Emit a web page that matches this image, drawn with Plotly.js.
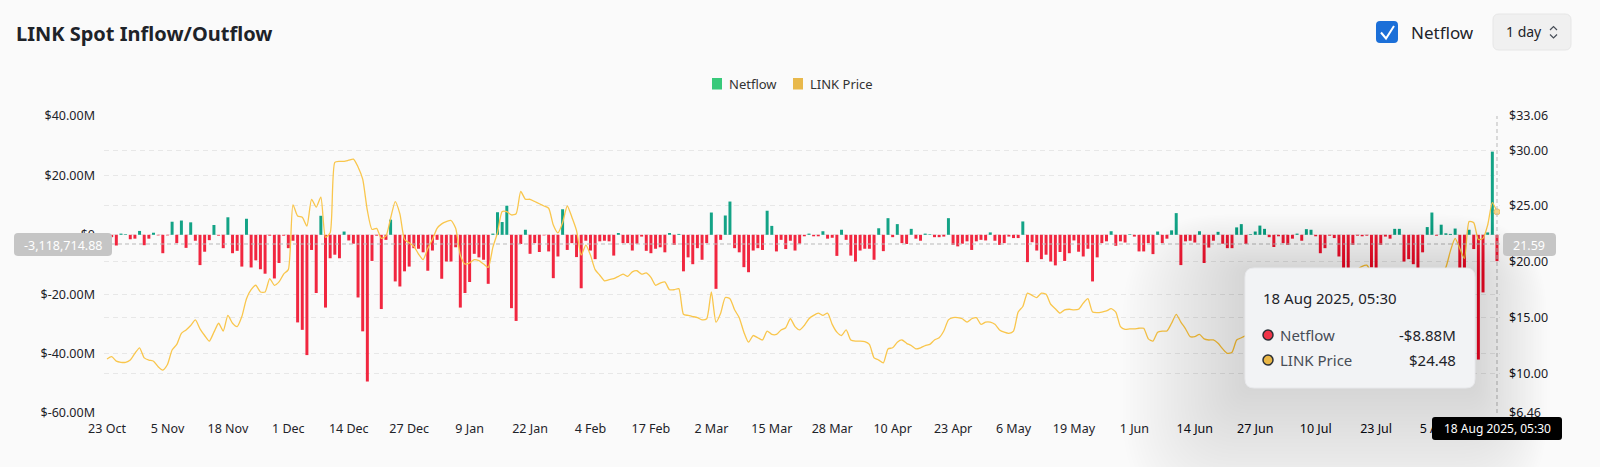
<!DOCTYPE html>
<html>
<head>
<meta charset="utf-8">
<script src="https://cdn.plot.ly/plotly-3.0.1.min.js"></script>
<style>
html,body{margin:0;padding:0;background:#fafafa;}
#chart{width:1600px;height:467px;}
</style>
</head>
<body>
<div id="chart"></div>
<script>
// ---- DATA ----
const startDate = '2024-10-23 05:30';
const tickLabels = ['23 Oct','5 Nov','18 Nov','1 Dec','14 Dec','27 Dec','9 Jan','22 Jan','4 Feb','17 Feb','2 Mar','15 Mar','28 Mar','10 Apr','23 Apr','6 May','19 May','1 Jun','14 Jun','27 Jun','10 Jul','23 Jul','5 Aug'];
// Netflow in $M, one per day
const netflow = [
-1.2,-0.8,-3.6,0.4,0.2,-1.5,-1.3,1.3,-3.5,-1.3,
0.7,-0.2,-6.2,-0.2,4.4,-2.8,4.8,-4.4,4.2,-2.0,
-10.2,-5.7,-1.8,3.3,-0.3,-4.5,5.9,-6.2,-5.4,-10.7,
5.4,-11.0,-8.6,-11.6,-13.1,-0.3,-14.7,-9.5,-0.3,-4.5,
-2.0,-29.5,-32,-40.5,-5.1,-19.6,6.4,-24.5,-7.9,-6.7,
-7.9,1.1,-1.9,-3.0,-21.1,-32.5,-49.4,-8.8,-0.3,-25,
-1.7,5.1,-15.7,-17.4,-12.3,-10.7,-4.5,-4.7,-5.9,-12.1,
-5.3,-1.7,-14.8,-9.0,-9.0,-4.2,-24.5,-19.6,-15.9,-6.4,
-7.6,-8.4,-16.5,0.4,7.6,4.3,9.8,-24.7,-29,-3.1,
1.7,-6.4,-2.8,-5.8,-0.2,-5.6,-14.6,-7.3,8.6,-5.1,
-2.8,-7.5,-18,-2.0,-5.3,-8.2,-2.2,-2.0,-2.2,-7.0,
0.6,-2.8,-2.8,-5.3,-3.0,-0.6,-5.4,-6.2,-4.7,-4.2,
-5.9,0.6,-3.4,0.3,-12.3,-7.6,-9.9,-4.5,-8.4,-2.8,
7.5,-18.2,-1.7,6.5,11.2,-4.5,-5.9,-10.9,-12.6,-5.3,
-4.5,-5.1,8.1,3.0,-5.6,-1.7,-4.8,-2.0,-5.3,-3.0,
-0.5,0.4,-0.5,-0.5,1.2,-1.3,-1.0,-7.1,1.7,-1.7,
-7.0,-9.0,-5.3,-4.7,-4.7,-8.4,2.2,-5.5,5.6,-0.8,
3.6,-2.8,-3.1,2.0,-1.3,-2.0,0.4,0.2,-0.8,-0.8,
-0.6,5.6,-3.4,-3.9,-3.0,-2.2,-5.1,-2.2,-1.7,-1.9,
0.8,-2.0,-3.4,-2.8,-0.6,-1.1,-1.1,4.5,-9.2,-2.5,
-5.3,-8.2,-6.7,-9.0,-10.3,-5.8,-8.8,-6.2,-1.9,-5.7,
-7.3,-4.7,-15.7,-7.6,-2.8,-2.2,1.2,-3.7,-2.2,-2.6,
0.2,-0.6,-5.6,-5.6,-2.8,-6.5,1.1,-2.8,-1.3,1.5,
7.3,-10.2,-2.2,-2.0,-2.6,1.2,-9.5,-4.3,-2.0,1.0,
-3.0,-4.5,-4.5,2.5,3.6,-3.1,0.2,1.1,3.1,2.0,
-0.8,-4.1,-0.5,-2.8,-3.4,-1.3,0.4,-2.0,1.9,1.7,
-0.5,-6.2,-4.5,-0.3,-1.1,-7.3,-12,-12,-3.4,-0.3,
-0.5,-0.3,-11,-13,-3.4,-0.6,-1.3,2.0,2.0,-9.0,
-8.2,-9.9,-11.5,-5.9,2.6,7.5,-0.3,3.4,0.5,0.3,
2.1,-12,-12,1.7,-4.8,-42,-19.4,0.8,28,-8.88
];
// LINK price in $, one per day
const linkPrice = [
11.3,11.5,11.1,11.0,11.0,11.2,11.8,12.3,11.4,11.2,
11.1,10.6,10.3,10.8,12.1,12.6,13.6,13.9,14.3,14.8,
14.0,13.4,12.9,13.7,14.5,13.8,15.2,14.5,14.2,15.1,
16.7,17.5,17.9,17.3,17.3,18.5,17.9,18.2,18.9,19.3,
25.1,24.1,24.0,23.2,25.6,24.9,25.8,22.2,22.6,28.9,
29.0,29.0,29.1,29.2,28.5,27.4,24.6,22.9,23.0,22.1,
22.3,23.9,25.4,24.3,22.0,21.7,21.4,20.7,20.2,21.2,
22.0,23.0,23.4,23.6,23.7,23.0,20.6,19.8,19.9,20.2,
20.1,19.8,19.5,21.3,22.6,24.5,24.5,24.2,24.3,26.3,
25.6,25.6,25.4,25.2,25.0,24.8,23.3,22.6,23.5,25.0,
24.0,22.8,20.6,21.5,20.6,19.3,18.8,18.3,18.4,18.5,
18.7,18.9,18.7,19.1,19.2,18.9,19.0,18.6,17.9,18.1,
18.2,17.5,17.5,17.6,15.3,15.2,15.1,15.0,14.8,14.9,
17.3,14.6,15.4,16.8,16.7,15.7,15.0,13.7,12.8,13.4,
13.2,13.0,13.8,13.5,13.5,13.9,14.1,14.9,14.2,13.9,
14.3,14.9,15.2,15.4,15.2,15.4,14.4,13.7,13.4,13.9,
13.0,12.9,12.9,12.85,12.6,11.4,11.2,10.95,12.2,12.3,
12.8,13.0,12.7,12.5,12.2,12.3,12.5,12.6,13.0,13.2,
13.8,14.8,15.0,15.0,14.9,14.6,14.9,15.0,14.4,14.6,
14.6,14.4,13.9,13.7,13.6,13.8,15.5,16.0,17.2,17.0,
16.8,17.2,17.1,16.2,15.8,15.4,15.7,15.75,15.7,15.75,
16.3,16.7,15.5,15.45,15.5,15.6,15.8,15.5,14.2,13.95,
14.0,14.0,14.05,14.05,13.1,12.9,13.7,13.8,13.8,14.5,
15.3,14.6,14.0,13.3,13.3,13.5,13.1,13.0,13.0,12.7,
12.2,11.8,11.9,13.0,13.2,13.4,13.6,13.8,13.7,13.9,
13.5,13.2,13.7,14.0,13.8,14.3,14.9,14.6,15.2,15.0,
15.3,15.8,16.5,17.6,17.2,18.0,18.4,18.2,18.8,19.3,
19.6,19.7,19.0,18.4,18.6,18.0,17.6,17.9,17.5,17.2,
17.0,16.6,16.2,16.4,16.6,17.4,18.2,18.9,19.5,21.0,
22.1,21.2,20.3,23.6,23.5,22.0,22.1,23.3,25.3,24.48
];
const leftTickVals = [40,20,0,-20,-40,-60];
const leftTickText = ['$40.00M','$20.00M','$0','$-20.00M','$-40.00M','$-60.00M'];
const rightTickVals = [33.06,30,25,20,15,10,6.46];
const rightTickText = ['$33.06','$30.00','$25.00','$20.00','$15.00','$10.00','$6.46'];

// ---- BUILD ----
const DAY = 86400000;
function toMs(s){ return Date.parse(s.replace(' ','T')+':00Z'); }
function fmt(ms){ return new Date(ms).toISOString().replace('T',' ').slice(0,19); }
const t0 = toMs(startDate);
const dates = netflow.map((_,i)=>fmt(t0 + i*DAY));
const tickVals = tickLabels.map((_,i)=>dates[i*13]);
const barColors = netflow.map(v => v >= 0 ? '#13a386' : '#f1263f');

// plot area in pixels
const L=104, R=1500, T=116, B=413;
const px = x => (x-L)/(R-L);
const py = y => (B-y)/(B-T);
function rr(x0,y0,x1,y1,r){
  const P=(x,y)=>px(x).toFixed(5)+','+py(y).toFixed(5);
  return 'M'+P(x0+r,y0)+' L'+P(x1-r,y0)+' Q'+P(x1,y0)+' '+P(x1,y0+r)+
    ' L'+P(x1,y1-r)+' Q'+P(x1,y1)+' '+P(x1-r,y1)+' L'+P(x0+r,y1)+
    ' Q'+P(x0,y1)+' '+P(x0,y1-r)+' L'+P(x0,y0+r)+' Q'+P(x0,y0)+' '+P(x0+r,y0)+' Z';
}
const FONT = 'Noto Sans, sans-serif';
const shapes = [];
const ann = [];
function txt(text,x,y,o){ ann.push(Object.assign({text:text,x:px(x),y:py(y),xref:'paper',yref:'paper',showarrow:false,xanchor:'left',yanchor:'middle',font:{family:FONT,size:12,color:'#1e2329'}},o||{})); }

// crosshair lines
shapes.push({type:'line',xref:'paper',yref:'paper',x0:px(1497),x1:px(1497),y0:0,y1:1,line:{color:'#b9b9b9',width:1,dash:'4px,3px'},layer:'above'});
shapes.push({type:'line',xref:'paper',yref:'paper',x0:0,x1:1,y0:py(244),y1:py(244),line:{color:'#b9b9b9',width:1,dash:'4px,3px'},layer:'above'});

// tooltip shadow layers (soft)
for(let k=36;k>=1;k--){
  const e=2.6*k;
  shapes.push({type:'path',xref:'paper',yref:'paper',path:rr(1245-e-0.8*k,268-e+1.1*k,1475+e-0.6*k,388+e+1.1*k,8+e),fillcolor:'rgba(0,0,0,0.0058)',line:{width:0},layer:'above'});
}
// tooltip box
shapes.push({type:'path',xref:'paper',yref:'paper',path:rr(1245,268,1475,388,9),fillcolor:'#f2f3f5',line:{color:'#e8e9ec',width:1},layer:'above'});
// tooltip dots
shapes.push({type:'circle',xref:'paper',yref:'paper',x0:px(1263),x1:px(1273),y0:py(340),y1:py(330),fillcolor:'#ef3448',line:{color:'#2b2f36',width:1.5},layer:'above'});
shapes.push({type:'circle',xref:'paper',yref:'paper',x0:px(1263),x1:px(1273),y0:py(365),y1:py(355),fillcolor:'#e9b646',line:{color:'#2b2f36',width:1.5},layer:'above'});
txt('18 Aug 2025, 05:30',1261,298,{font:{family:FONT,size:15,color:'#1e2329'}});
txt('Netflow',1278,335,{font:{family:FONT,size:15,color:'#474d57'}});
txt('LINK Price',1278,360,{font:{family:FONT,size:15,color:'#474d57'}});
txt('-$8.88M',1458,335,{xanchor:'right',font:{family:FONT,size:15,color:'#1e2329'}});
txt('$24.48',1458,360,{xanchor:'right',font:{family:FONT,size:15,color:'#1e2329'}});

// axis pointer labels
shapes.push({type:'path',xref:'paper',yref:'paper',path:rr(14,233,112,256,4),fillcolor:'#c5c5c5',line:{width:0},layer:'above'});
txt('-3,118,714.88',63,245,{xanchor:'center',font:{family:FONT,size:12.5,color:'#ffffff'}});
shapes.push({type:'path',xref:'paper',yref:'paper',path:rr(1503,233,1556,256,4),fillcolor:'#c5c5c5',line:{width:0},layer:'above'});
txt('21.59',1529,245,{xanchor:'center',font:{family:FONT,size:12.5,color:'#ffffff'}});
shapes.push({type:'path',xref:'paper',yref:'paper',path:rr(1432,417,1562,440,3),fillcolor:'#000000',line:{width:0},layer:'above'});
txt('18 Aug 2025, 05:30',1497,428.5,{xanchor:'center',font:{family:FONT,size:12,color:'#ffffff'}});

// header
txt('<b>LINK Spot Inflow/Outflow</b>',14,33,{font:{family:FONT,size:20,color:'#1e2329'}});
shapes.push({type:'path',xref:'paper',yref:'paper',path:rr(1376,21,1398,43,4),fillcolor:'#1b6fd8',line:{width:0},layer:'above'});
shapes.push({type:'path',xref:'paper',yref:'paper',path:'M'+px(1381)+','+py(32.5)+' L'+px(1386)+','+py(38.5)+' L'+px(1394)+','+py(26),line:{color:'#ffffff',width:2},layer:'above'});
txt('Netflow',1409,32.5,{font:{family:FONT,size:17,color:'#1e2329'}});
shapes.push({type:'path',xref:'paper',yref:'paper',path:rr(1493,14,1571,50,6),fillcolor:'#f0f0f0',line:{color:'#e6e6e6',width:1},layer:'above'});
txt('1 day',1504,32,{font:{family:FONT,size:14,color:'#1e2329'}});
shapes.push({type:'path',xref:'paper',yref:'paper',path:'M'+px(1550)+','+py(30)+' L'+px(1553.5)+','+py(26.5)+' L'+px(1557)+','+py(30),line:{color:'#474d57',width:1.2},layer:'above'});
shapes.push({type:'path',xref:'paper',yref:'paper',path:'M'+px(1550)+','+py(34.5)+' L'+px(1553.5)+','+py(38)+' L'+px(1557)+','+py(34.5),line:{color:'#474d57',width:1.2},layer:'above'});

// legend
shapes.push({type:'rect',xref:'paper',yref:'paper',x0:px(712),x1:px(722),y0:py(78),y1:py(89.5),fillcolor:'#38c97a',line:{width:0},layer:'above'});
txt('Netflow',727,83.5,{font:{family:FONT,size:13,color:'#333333'}});
shapes.push({type:'rect',xref:'paper',yref:'paper',x0:px(793),x1:px(803),y0:py(78),y1:py(89.5),fillcolor:'#e8b84b',line:{width:0},layer:'above'});
txt('LINK Price',808,83.5,{font:{family:FONT,size:13,color:'#333333'}});

const traces = [
  {type:'bar',x:dates,y:netflow,width:0.64*DAY,marker:{color:barColors,line:{width:0}},yaxis:'y',hoverinfo:'skip',name:'Netflow'},
  {type:'scatter',mode:'lines',x:dates,y:linkPrice,yaxis:'y2',line:{color:'#f9c64c',width:1.3,shape:'spline',smoothing:0.6},hoverinfo:'skip',name:'LINK Price'},
  {type:'scatter',mode:'markers',x:[dates[dates.length-1]],y:[linkPrice[linkPrice.length-1]],yaxis:'y2',marker:{color:'#f6d58a',size:6,line:{color:'#e8c06a',width:1}},hoverinfo:'skip',showlegend:false}
];

const layout = {
  width:1600,height:467,
  paper_bgcolor:'#fafafa',plot_bgcolor:'#fafafa',
  margin:{l:L,r:1600-R,t:T,b:467-B,pad:0},
  showlegend:false,
  font:{family:FONT,size:12,color:'#1e2329'},
  xaxis:{type:'date',range:[fmt(t0-0.65*DAY),fmt(t0+299.65*DAY)],tickmode:'array',tickvals:tickVals,ticktext:tickLabels,
    showgrid:false,zeroline:false,showline:false,ticks:'',ticklabelstandoff:6,tickfont:{family:FONT,size:12.5,color:'#1e2329'}},
  yaxis:{range:[-60,40],tickmode:'array',tickvals:leftTickVals,ticktext:leftTickText,showgrid:true,gridcolor:'#e7e7e7',griddash:'5px,4px',gridwidth:1,
    zeroline:false,showline:false,ticks:'',ticklabelstandoff:8,tickfont:{family:FONT,size:12.5,color:'#1e2329'}},
  yaxis2:{range:[6.46,33.06],overlaying:'y',side:'right',tickmode:'array',tickvals:rightTickVals,ticktext:rightTickText,showgrid:true,gridcolor:'#e7e7e7',griddash:'5px,4px',gridwidth:1,
    zeroline:false,showline:false,ticks:'',ticklabelstandoff:8,tickfont:{family:FONT,size:12.5,color:'#1e2329'}},
  bargap:0.3,
  shapes:shapes,
  annotations:ann
};
Plotly.newPlot('chart',traces,layout,{staticPlot:true,displayModeBar:false});
</script>
</body>
</html>
